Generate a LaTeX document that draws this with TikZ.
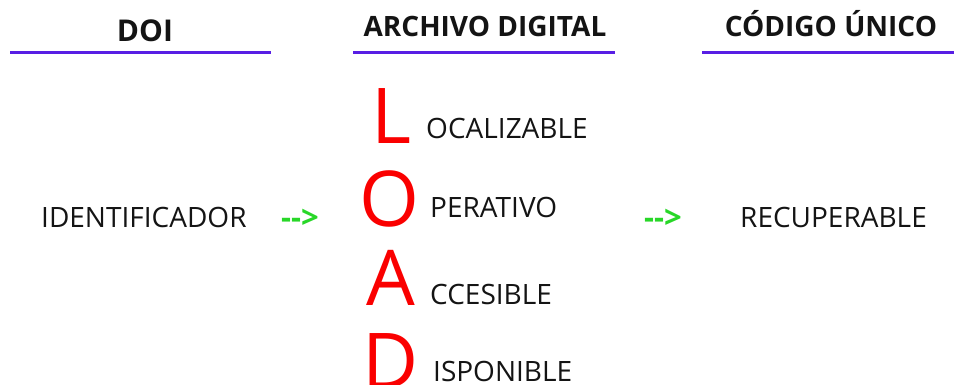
\documentclass[tikz,border=0pt]{standalone}
\usepackage{fontspec}
\setmainfont{Open Sans}
\definecolor{ink}{RGB}{20,20,20}
\definecolor{rulecol}{RGB}{88,30,228}
\definecolor{loadred}{RGB}{250,0,0}
\definecolor{arrowgreen}{RGB}{40,215,40}
\begin{document}
\begin{tikzpicture}[x=1pt,y=-1pt]
\tikzset{
  hdr/.style={font=\fontsize{28}{28}\bfseries\selectfont, text=ink, inner sep=0pt, anchor=base},
  word/.style={font=\fontsize{28}{28}\selectfont, text=ink, inner sep=0pt, anchor=base west},
  big/.style={font=\fontsize{77}{77}\selectfont, text=loadred, inner sep=0pt, anchor=base west},
  rulebar/.style={draw=rulecol, line width=3pt},
  arrowtxt/.style={font=\fontsize{31}{31}\bfseries\selectfont, text=arrowgreen, inner sep=0pt, anchor=base west}
}
\useasboundingbox[fill=white] (0,0) rectangle (954,385);

% column headers with their rules
\node[hdr, font=\fontsize{30}{30}\bfseries\selectfont] (doi) at (145,42) {DOI};
\node[hdr] (archivo) at (485,37) {ARCHIVO DIGITAL};
\node[hdr] (codigo) at (831,37) {CÓDIGO ÚNICO};
\coordinate (r1a) at (10,53);  \coordinate (r1b) at (271,53);
\coordinate (r2a) at (353,53); \coordinate (r2b) at (615,53);
\coordinate (r3a) at (702,53); \coordinate (r3b) at (954,53);
\draw[rulebar] (r1a) -- (r1b);
\draw[rulebar] (r2a) -- (r2b);
\draw[rulebar] (r3a) -- (r3b);

% left and right terms
\node[word] (ident) at (41,228) {IDENTIFICADOR};
\node[arrowtxt] (arr1) at (281,229) {{-}{-}>};
\node[arrowtxt] (arr2) at (644,229) {{-}{-}>};
\node[word] (recup) at (740,228) {RECUPERABLE};

% the LOAD acronym
\node[big] (L) at (371,144) {L};
\node[word] (lw) at (426,139) {OCALIZABLE};
\node[big] (O) at (359,226) {O};
\node[word] (ow) at (430,218) {PERATIVO};
\node[big] (A) at (366,305) {A};
\node[word] (aw) at (430,304) {CCESIBLE};
\node[big] (D) at (362,388) {D};
\node[word] (dw) at (433,381) {ISPONIBLE};
\end{tikzpicture}
\end{document}
